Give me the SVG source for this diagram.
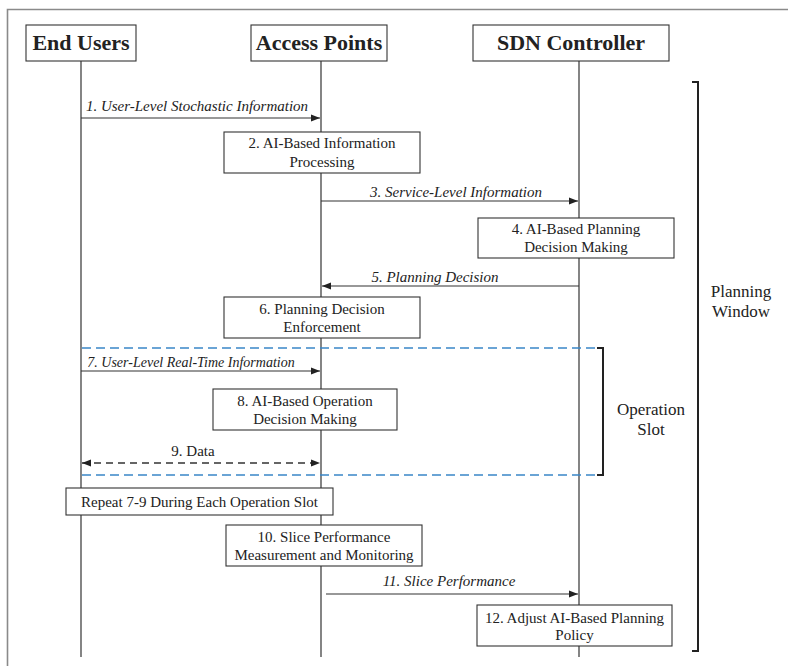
<svg xmlns="http://www.w3.org/2000/svg" width="788" height="666" viewBox="0 0 788 666">
  <style>
    text { font-family: "Liberation Serif", "Times New Roman", serif; fill: #222; }
    .hdr { font-size: 22px; font-weight: bold; text-anchor: middle; }
    .box { fill: #fff; stroke: #333; stroke-width: 1.1; }
    .btxt { font-size: 15px; text-anchor: middle; }
    .lbl { font-size: 15px; font-style: italic; text-anchor: middle; }
    .side { font-size: 17px; text-anchor: middle; }
    .life { stroke: #333; stroke-width: 1.2; fill: none; }
    .msg { stroke: #333; stroke-width: 1.2; fill: none; }
    .dash { stroke: #333; stroke-width: 1.4; stroke-dasharray: 7 5; fill: none; }
    .slot { stroke: #3a86c8; stroke-width: 1.4; stroke-dasharray: 9 5; fill: none; }
    .brk { stroke: #222; stroke-width: 2; fill: none; }
  </style>
  <defs>
    <marker id="arr" viewBox="0 0 10 10" refX="10" refY="5" markerWidth="9" markerHeight="9" markerUnits="userSpaceOnUse" orient="auto-start-reverse">
      <path d="M0,1 L10,5 L0,9 z" fill="#222"/>
    </marker>
  </defs>

  <!-- frame -->
  <path d="M7.5,666 V9.5 H788" fill="none" stroke="#8a8a8a" stroke-width="1.6"/>

  <!-- lifelines -->
  <g id="lifelines">
    <line class="life" x1="81" y1="61" x2="81" y2="657"/>
    <line class="life" x1="321" y1="61" x2="321" y2="657"/>
    <line class="life" x1="579" y1="61" x2="579" y2="657"/>
  </g>

  <!-- operation slot band -->
  <g id="operation-slot">
    <line class="slot" x1="82" y1="348" x2="597" y2="348"/>
    <line class="slot" x1="82" y1="475" x2="597" y2="475"/>
    <path class="brk" d="M597,348 H603 V475 H597"/>
    <text class="side" x="651" y="415">Operation</text>
    <text class="side" x="651" y="435">Slot</text>
  </g>

  <!-- planning window bracket -->
  <g id="planning-window">
    <path class="brk" d="M692,82 H698 V651 H692"/>
    <text class="side" x="741" y="297">Planning</text>
    <text class="side" x="741" y="317">Window</text>
  </g>

  <!-- headers -->
  <g id="end-users">
    <rect class="box" x="26" y="25" width="110" height="36"/>
    <text class="hdr" x="81" y="50">End Users</text>
  </g>
  <g id="access-points">
    <rect class="box" x="251" y="25" width="136" height="36"/>
    <text class="hdr" x="319" y="50">Access Points</text>
  </g>
  <g id="sdn-controller">
    <rect class="box" x="473" y="25" width="196" height="36"/>
    <text class="hdr" x="571" y="50">SDN Controller</text>
  </g>

  <!-- messages -->
  <g id="connectors">
    <line class="msg" x1="81" y1="118" x2="320" y2="118" marker-end="url(#arr)"/>
    <text class="lbl" x="197" y="111">1. User-Level Stochastic Information</text>

    <line class="msg" x1="321" y1="201" x2="578" y2="201" marker-end="url(#arr)"/>
    <text class="lbl" x="456" y="197">3. Service-Level Information</text>

    <line class="msg" x1="579" y1="286" x2="322" y2="286" marker-end="url(#arr)"/>
    <text class="lbl" x="435" y="282">5. Planning Decision</text>

    <line class="msg" x1="81" y1="371" x2="320" y2="371" marker-end="url(#arr)"/>
    <text class="lbl" x="191" y="367" style="font-size:14px">7. User-Level Real-Time Information</text>

    <line class="dash" x1="82" y1="463" x2="320" y2="463" marker-start="url(#arr)" marker-end="url(#arr)"/>
    <text class="btxt" x="193" y="456">9. Data</text>

    <line class="msg" x1="326" y1="594" x2="578" y2="594" marker-end="url(#arr)"/>
    <text class="lbl" x="449" y="586">11. Slice Performance</text>
  </g>

  <!-- activity boxes -->
  <g id="step2">
    <rect class="box" x="224" y="132" width="196" height="41"/>
    <text class="btxt" x="322" y="148">2. AI-Based Information</text>
    <text class="btxt" x="322" y="167">Processing</text>
  </g>
  <g id="step4">
    <rect class="box" x="478" y="218" width="196" height="40"/>
    <text class="btxt" x="576" y="234">4. AI-Based Planning</text>
    <text class="btxt" x="576" y="252">Decision Making</text>
  </g>
  <g id="step6">
    <rect class="box" x="224" y="297" width="196" height="41"/>
    <text class="btxt" x="322" y="314">6. Planning Decision</text>
    <text class="btxt" x="322" y="332">Enforcement</text>
  </g>
  <g id="step8">
    <rect class="box" x="213" y="389" width="184" height="41"/>
    <text class="btxt" x="305" y="406">8. AI-Based Operation</text>
    <text class="btxt" x="305" y="424">Decision Making</text>
  </g>
  <g id="repeat">
    <rect class="box" x="66" y="488" width="267" height="27"/>
    <text class="btxt" x="199.5" y="507">Repeat 7-9 During Each Operation Slot</text>
  </g>
  <g id="step10">
    <rect class="box" x="226" y="525" width="196" height="41"/>
    <text class="btxt" x="324" y="542">10. Slice Performance</text>
    <text class="btxt" x="324" y="560">Measurement and Monitoring</text>
  </g>
  <g id="step12">
    <rect class="box" x="477" y="605" width="195" height="41"/>
    <text class="btxt" x="574.5" y="623">12. Adjust AI-Based Planning</text>
    <text class="btxt" x="574.5" y="640">Policy</text>
  </g>
</svg>
